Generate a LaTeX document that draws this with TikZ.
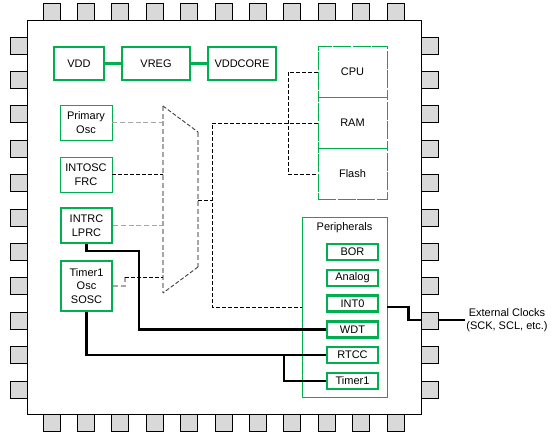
\documentclass[tikz,border=0pt]{standalone}
\usepackage{fontspec}
\setmainfont{Liberation Sans}
\definecolor{chipgreen}{HTML}{00B050}
\definecolor{pingray}{HTML}{D9D9D9}
\begin{document}
\begin{tikzpicture}[x=1pt, y=-1pt, font=\fontsize{11}{13.5}\selectfont,
  gbox/.style={draw=chipgreen, line width=2.3pt, align=center, inner sep=0pt},
  lbox/.style={draw=chipgreen, line width=0.8pt, align=center, inner sep=0pt},
  mbox/.style={lbox, dash pattern=on 18pt off 1.5pt, minimum width=69pt, minimum height=51pt},
  pbox/.style={gbox, minimum width=51pt, minimum height=16pt},
  pin/.style={draw, line width=0.8pt, fill=pingray},
  wire/.style={line width=2.3pt},
  kdash/.style={line width=0.9pt, dash pattern=on 4pt off 2pt},
  gdash/.style={line width=1.2pt, gray!70, dash pattern=on 5pt off 2.7pt}]
\useasboundingbox (0,0) rectangle (553,435);

% 芯片外框
\draw[line width=0.9pt] (27,20) rectangle (421,414);

% 电源
\node[gbox, minimum width=50pt, minimum height=33pt] (vdd) at (79,63.5) {VDD};
\node[gbox, minimum width=68pt, minimum height=33pt] (vreg) at (156,63.5) {VREG};
\node[gbox, minimum width=68pt, minimum height=33pt] (vddcore) at (242,63.5) {VDDCORE};
\draw[wire, chipgreen] (vdd) -- (vreg) (vreg) -- (vddcore);

% CPU 与存储器
\node[mbox] (cpu) at (352.5,72) {CPU};
\node[mbox] (ram) at (352.5,123) {RAM};
\node[mbox] (flash) at (352.5,174) {Flash};

% 时钟源
\node[lbox, minimum width=52pt, minimum height=35pt] (posc) at (86,122.5) {Primary\\Osc};
\node[lbox, minimum width=52pt, minimum height=35pt] (frc) at (86,174.5) {INTOSC\\FRC};
\node[gbox, minimum width=51pt, minimum height=35pt] (lprc) at (86.5,225.5) {INTRC\\LPRC};
\node[gbox, minimum width=51pt, minimum height=50pt] (sosc) at (86.5,286) {Timer1\\Osc\\SOSC};

% 外设
\node[lbox, minimum width=85pt, minimum height=180pt] (periph) at (344.5,307) {};
\node (plabel) at (344.5,228) {Peripherals};
\foreach \n/\t [count=\i from 0] in {bor/BOR, analog/Analog, int0/INT0, wdt/WDT, rtcc/RTCC, tmr1/Timer1}
  \node[pbox] (\n) at (352.5,{252+25.8*\i}) {\t};

% 多路选择器
\coordinate (mtl) at (163,106);
\coordinate (mtr) at (198,132);
\coordinate (mbr) at (198,267);
\coordinate (mbl) at (163,293);
\draw[gdash] (mtl) -- (mbl) (mtr) -- (mbr);
\draw[kdash, black!75] (mtl) -- (mtr) (mbr) -- (mbl);

% 时钟输入
\draw[gdash] (posc.east) -- (posc.east -| mtl);
\draw[kdash] (frc.east) -- (frc.east -| mtl);
\draw[gdash] (lprc.east) -- (lprc.east -| mtl);
\coordinate (sj) at (125,277);
\draw[gdash] (sosc.east) -| (sj);
\draw[kdash] (sj) -- (sj -| mtl);

% 时钟输出
\coordinate (mout) at (198,200);
\coordinate (split) at (212,200);
\coordinate (busx) at (288,72);
\draw[kdash] (mout) -- (split);
\draw[kdash] (ram.west) -- (ram.west -| split) -- (periph.west -| split) -- (periph.west);
\draw[kdash] (cpu.west) -- (cpu.west -| busx) -- (flash.west -| busx) -- (flash.west);
\draw[kdash] (ram.west -| busx) -- (ram.west -| split);

% 低速时钟连线
\coordinate (wx) at (139,251);
\draw[wire] (lprc.south) |- (wx) |- (wdt.west);
\draw[wire] (sosc.south) |- (rtcc.west);
\coordinate (tap) at (284,0);
\draw[wire] (rtcc.west -| tap) |- (tmr1.west);

% 外部时钟
\node[align=center, inner sep=1pt] (ext) at (507,320) {External Clocks\\(SCK, SCL, etc.)};
\draw[wire] (periph.east) -- ++(21,0) |- (ext.west);

% 引脚
\foreach \i in {0,...,10} {
  \draw[pin] ({43+34.4*\i},3) rectangle ++(17,17);
  \draw[pin] ({43+34.4*\i},414) rectangle ++(17,17);
  \draw[pin] (10,{37+34.4*\i}) rectangle ++(17,17);
  \draw[pin] (421,{37+34.4*\i}) rectangle ++(17,17);
}
\end{tikzpicture}
\end{document}
